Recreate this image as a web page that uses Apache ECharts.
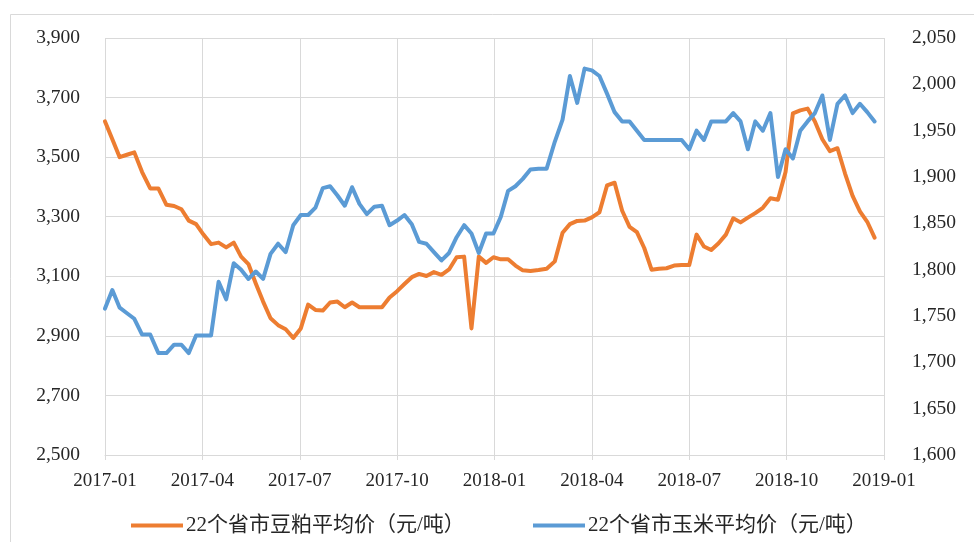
<!DOCTYPE html>
<html>
<head>
<meta charset="utf-8">
<script src="https://cdn.jsdelivr.net/npm/echarts@6/dist/echarts.min.js"></script>
<style>html,body{margin:0;padding:0;background:#fff;}#main{width:974px;height:542px;}</style>
</head>
<body>
<div id="main"></div>
<script>
// Weekly observations, first week starting 2017-01-01
const startDate = '2017-01-01';
const xTickLabels = ['2017-01','2017-04','2017-07','2017-10','2018-01','2018-04','2018-07','2018-10','2019-01'];
const soyName = '22个省市豆粕平均价（元/吨）';
const cornName = '22个省市玉米平均价（元/吨）';
const soyValues = [
3620,3560,3500,3508,3516,3450,3395,3395,3340,3336,
3325,3287,3275,3240,3208,3213,3197,3213,3166,3141,
3076,3015,2959,2936,2922,2893,2925,3005,2987,2985,
3012,3015,2996,3012,2996,2996,2996,2996,3029,3050,
3074,3097,3108,3101,3114,3105,3123,3164,3166,2925,
3166,3145,3164,3157,3157,3136,3120,3118,3121,3125,
3150,3246,3275,3286,3287,3298,3315,3405,3414,3320,
3266,3248,3195,3122,3125,3127,3136,3138,3138,3240,
3200,3188,3211,3240,3295,3281,3297,3312,3330,3362,
3357,3450,3647,3657,3663,3620,3560,3520,3530,3445,
3370,3318,3283,3230];
const cornValues = [
1758,1778,1759,1753,1747,1730,1730,1710,1710,1719,
1719,1710,1729,1729,1729,1787,1768,1807,1800,1790,
1798,1790,1817,1828,1819,1848,1859,1859,1867,1888,
1890,1880,1869,1889,1871,1860,1868,1869,1848,1853,
1859,1849,1830,1828,1819,1810,1818,1835,1848,1839,
1818,1839,1839,1857,1885,1890,1898,1908,1909,1909,
1938,1962,2009,1980,2017,2015,2009,1990,1970,1960,
1960,1950,1940,1940,1940,1940,1940,1940,1930,1950,
1940,1960,1960,1960,1969,1960,1930,1960,1950,1969,
1900,1930,1920,1950,1960,1969,1988,1940,1979,1988,
1969,1979,1970,1960];

// weekly dates -> fractional month index since 2017-01
function monthIndex(d) {
  const y = d.getUTCFullYear(), m = d.getUTCMonth(), day = d.getUTCDate();
  const dim = new Date(Date.UTC(y, m + 1, 0)).getUTCDate();
  return (y - 2017) * 12 + m + (day - 1) / dim;
}
const t0 = Date.parse(startDate + 'T00:00:00Z');
const xs = soyValues.map((_, i) => monthIndex(new Date(t0 + i * 7 * 86400000)));
const soyData = soyValues.map((v, i) => [xs[i], v]);
const cornData = cornValues.map((v, i) => [xs[i], v]);

const fmt = v => String(v).replace(/\B(?=(\d{3})+(?!\d))/g, ',');
const FONT = '"Liberation Serif", "Times New Roman", serif';
const TXT = '#262626';
const LEGEND_TEXT = {fontFamily: '"Liberation Serif", "Noto Sans CJK SC", serif', fontSize: 21, color: TXT, padding: [0,0,0,-2]};

const chart = echarts.init(document.getElementById('main'), null, {renderer: 'canvas'});
chart.setOption({
  animation: false,
  backgroundColor: '#fff',
  graphic: [{
    type: 'rect', left: 8, top: 12, shape: {width: 990, height: 560},
    style: {fill: 'none', stroke: '#d9d9d9', lineWidth: 1}, silent: true, z: -1
  }],
  grid: {left: 105, right: 90, top: 38, bottom: 87, containLabel: false},
  legend: [{
    left: 126, top: 510, icon: 'rect', itemWidth: 52, itemHeight: 4, itemGap: 0,
    data: [soyName], textStyle: LEGEND_TEXT
  }, {
    left: 528, top: 510, icon: 'rect', itemWidth: 52, itemHeight: 4, itemGap: 0,
    data: [cornName], textStyle: LEGEND_TEXT
  }],
  xAxis: {
    type: 'value', min: 0, max: 24, interval: 3,
    axisLine: {show: true, lineStyle: {color: '#d9d9d9', width: 1}},
    axisTick: {show: true, length: 5, lineStyle: {color: '#d9d9d9'}},
    splitLine: {show: true, lineStyle: {color: '#d9d9d9', width: 1}},
    axisLabel: {
      formatter: v => xTickLabels[Math.round(v / 3)],
      fontFamily: FONT, fontSize: 19, color: TXT, margin: 17
    }
  },
  yAxis: [{
    type: 'value', min: 2500, max: 3900, interval: 200,
    axisLine: {show: false}, axisTick: {show: false},
    splitLine: {show: true, lineStyle: {color: '#d9d9d9', width: 1}},
    axisLabel: {formatter: fmt, fontFamily: FONT, fontSize: 19.5, color: TXT, margin: 25}
  }, {
    type: 'value', min: 1600, max: 2050, interval: 50, position: 'right',
    axisLine: {show: false}, axisTick: {show: false},
    splitLine: {show: false},
    axisLabel: {formatter: fmt, fontFamily: FONT, fontSize: 19.5, color: TXT, margin: 28}
  }],
  series: [{
    name: soyName, type: 'line', yAxisIndex: 0, data: soyData,
    showSymbol: false, symbol: 'none',
    itemStyle: {color: '#ED7D31'},
    lineStyle: {color: '#ED7D31', width: 4, join: 'round', cap: 'round'}
  }, {
    name: cornName, type: 'line', yAxisIndex: 1, data: cornData,
    showSymbol: false, symbol: 'none',
    itemStyle: {color: '#5B9BD5'},
    lineStyle: {color: '#5B9BD5', width: 4, join: 'round', cap: 'round'}
  }]
});
</script>
</body>
</html>
